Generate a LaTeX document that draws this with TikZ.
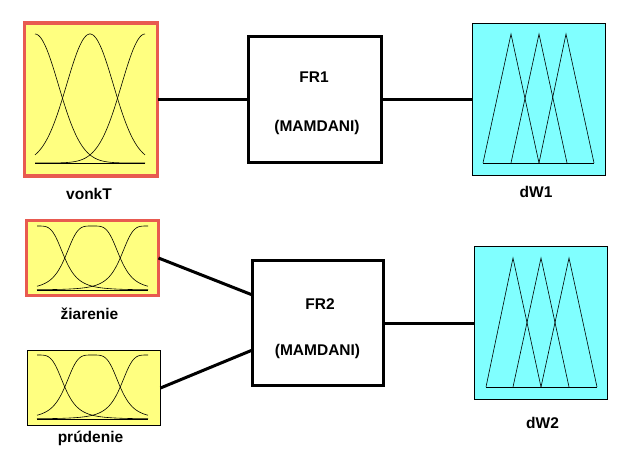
\documentclass[tikz,border=0pt]{standalone}
\usepackage{fontspec}
\setmainfont{Liberation Sans}
\usetikzlibrary{calc}
\definecolor{fyellow}{HTML}{FFFF80}
\definecolor{fcyan}{HTML}{80FFFF}
\definecolor{fred}{HTML}{E85A50}
\begin{document}
\begin{tikzpicture}[x=1pt,y=-1pt,
 inbox/.style={draw=black,line width=1pt,fill=fyellow,inner sep=0pt,outer sep=0pt},
 selbox/.style={inbox,draw=fred,line width=3.5pt},
 outbox/.style={draw=black,line width=1pt,fill=fcyan,inner sep=0pt,outer sep=0pt},
 rulebox/.style={draw=black,line width=3pt,fill=white,inner sep=0pt,outer sep=0pt},
 lbl/.style={font=\fontsize{15.5}{18}\selectfont\bfseries,anchor=base,inner sep=0pt},
 conn/.style={line width=3pt},
 mf/.style={line width=0.6pt}]
\useasboundingbox[fill=white] (0,0) rectangle (626,455);

% boxes
\node[selbox,minimum width=133pt,minimum height=153pt] (vonkT) at (91,99.5) {};
\node[rulebox,minimum width=133pt,minimum height=126pt] (FR1) at (315,99.5) {};
\node[outbox,minimum width=133pt,minimum height=152pt] (dW1) at (539,99.5) {};
\node[selbox,minimum width=132pt,minimum height=75pt] (ziarenie) at (92.5,258) {};
\node[inbox,minimum width=133pt,minimum height=75pt] (prudenie) at (94,388) {};
\node[rulebox,minimum width=131pt,minimum height=125pt] (FR2) at (318,323) {};
\node[outbox,minimum width=133pt,minimum height=153pt] (dW2) at (541,323) {};

% connectors
\draw[conn] (vonkT.east) -- (FR1.west);
\draw[conn] (FR1.east) -- (dW1.west);
\draw[conn] (ziarenie.east) -- ($(FR2.west)+(0,-28)$);
\draw[conn] (prudenie.east) -- ($(FR2.west)+(0,27)$);
\draw[conn] (FR2.east) -- (dW2.west);

% membership functions: vonkT (gaussian)
\foreach \c in {35,90,145}
  \draw[mf] plot[domain=35:145,samples=90,smooth] (\x,{163-129*exp(-((\x-\c)^2)/1095)});
\draw[mf] (35,163) -- (145,163);

% ziarenie (bell)
\foreach \c in {37,92.5,148}
  \draw[mf] plot[domain=37:148,samples=90,smooth] (\x,{290-64/(1+(((\x-\c)/27.75)^2)^2)});
\draw[mf] (37,290) -- (148,290);

% prudenie (bell)
\foreach \c in {37,92.5,148}
  \draw[mf] plot[domain=37:148,samples=90,smooth] (\x,{419-64/(1+(((\x-\c)/27.75)^2)^2)});
\draw[mf] (37,419) -- (148,419);

% dW1 triangles
\draw[mf] (483,163) -- (511,34) -- (539,163);
\draw[mf] (511,163) -- (539,34) -- (567,163);
\draw[mf] (539,163) -- (566,34) -- (594,163);
\draw[mf] (483,163) -- (594,163);

% dW2 triangles
\draw[mf] (486,387) -- (513,258) -- (541,387);
\draw[mf] (513,387) -- (541,258) -- (569,387);
\draw[mf] (541,387) -- (569,258) -- (597,387);
\draw[mf] (486,387) -- (597,387);

% labels
\node[lbl] (tvonkT) at (89,199) {vonkT};
\node[lbl] (tFR1a) at (314,82) {FR1};
\node[lbl] (tFR1b) at (317,131.5) {(MAMDANI)};
\node[lbl] (tdW1) at (536,197) {dW1};
\node[lbl] (tziar) at (89.5,319) {žiarenie};
\node[lbl] (tprud) at (90.5,442) {prúdenie};
\node[lbl] (tFR2a) at (320,309) {FR2};
\node[lbl] (tFR2b) at (317.5,355) {(MAMDANI)};
\node[lbl] (tdW2) at (542.5,428) {dW2};
\end{tikzpicture}
\end{document}
